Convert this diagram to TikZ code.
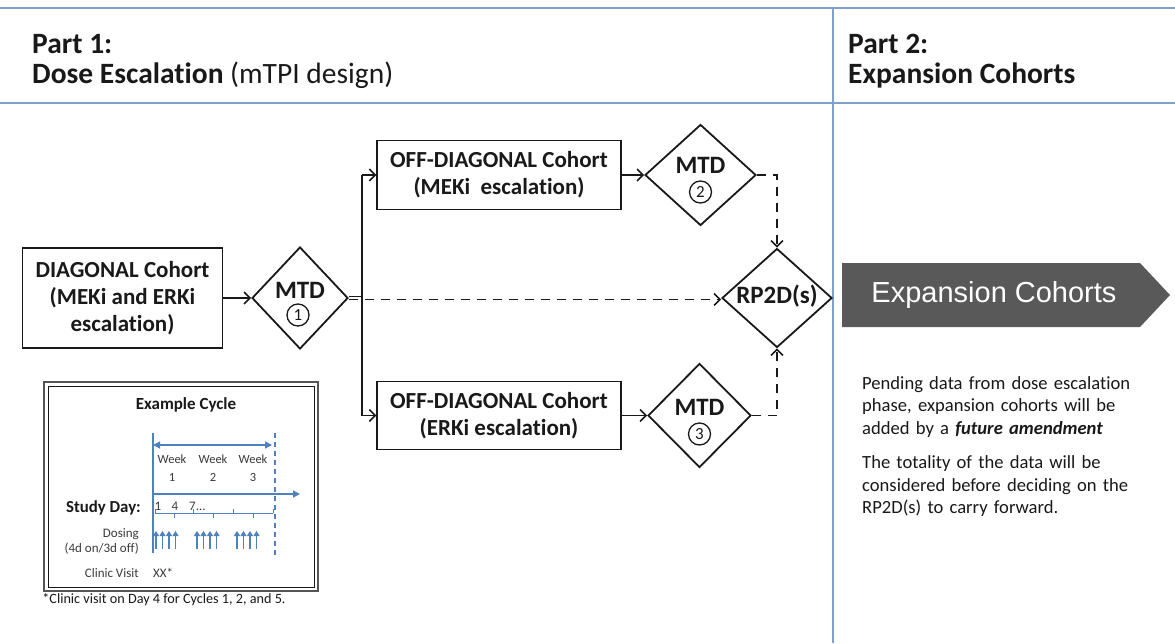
\documentclass[tikz,border=0pt]{standalone}
\usepackage{fontspec}
\setmainfont{Carlito}[Ligatures=NoCommon]
\newfontfamily\arialfont{Liberation Sans}
\usetikzlibrary{shapes.geometric,arrows.meta}
\definecolor{rulecol}{RGB}{127,160,207}
\definecolor{ink}{RGB}{25,25,25}
\definecolor{tlblue}{RGB}{79,129,189}
\definecolor{bannercol}{RGB}{89,89,89}
\definecolor{framegray}{RGB}{85,85,85}
\tikzset{
  cohort/.style={draw=ink, line width=1.3pt, fill=white, align=center, text=ink,
    font=\fontsize{23}{27}\selectfont\bfseries, inner sep=0pt},
  decision/.style={draw=ink, line width=1.8pt, diamond, inner sep=0pt, fill=white},
  dtext/.style={text=ink, inner sep=0pt, font=\fontsize{25}{27}\selectfont\bfseries},
  circnum/.style={circle, draw=ink, line width=1.3pt, minimum size=22pt, inner sep=0pt,
    text=ink, font=\fontsize{17}{17}\selectfont},
  flowline/.style={draw=ink, line width=1.8pt},
  flow/.style={flowline, -{Straight Barb[length=6pt,width=12pt,line width=1.5pt]}},
  dflow/.style={flow, dash pattern=on 9pt off 7pt},
  rulebar/.style={draw=rulecol, line width=2pt},
  head/.style={anchor=base west, inner sep=0pt, text=ink, font=\fontsize{29.5}{32}\selectfont},
  small/.style={inner sep=0pt, text=ink!85, font=\fontsize{13}{15}\selectfont},
  tl/.style={draw=tlblue, line width=1.3pt},
  tlarrow/.style={tl, -{Triangle[length=7pt,width=7pt]}},
  dosearrow/.style={draw=tlblue, line width=1.1pt, -{Triangle[length=5pt,width=6pt]}},
}
\begin{document}
\begin{tikzpicture}[x=1pt,y=-1pt]
\useasboundingbox (0,0) rectangle (1175,643);
\fill[white] (0,0) rectangle (1175,643);

% section rules and headings
\draw[rulebar] (0,8) -- (1175,8);
\draw[rulebar] (0,103) -- (1175,103);
\draw[draw=rulecol, line width=1.2pt] (833,8) -- (833,643);
\node[head] (p1a) at (32,53) {\bfseries Part 1:};
\node[head] (p1b) at (32,83) {\textbf{Dose Escalation} (mTPI design)};
\node[head] (p2a) at (848,53) {\bfseries Part 2:};
\node[head] (p2b) at (848,83) {\bfseries Expansion Cohorts};

% cohorts and decisions
\node[cohort, minimum width=200pt, minimum height=100pt] (diag) at (122.5,298)
  {DIAGONAL Cohort\\(MEKi and ERKi\\escalation)};
\node[decision, minimum width=96pt, minimum height=102pt] (m1) at (300,298) {};
\node[dtext] (m1t) at (300,290) {MTD};
\node[circnum] (m1c) at (298,315) {1};

\node[cohort, minimum width=244pt, minimum height=69pt] (off1) at (499,175)
  {OFF-DIAGONAL Cohort\\(MEKi~~escalation)};
\node[decision, minimum width=111pt, minimum height=101pt] (m2) at (700.5,175) {};
\node[dtext] (m2t) at (700.5,165) {MTD};
\node[circnum] (m2c) at (700.5,192) {2};

\node[cohort, minimum width=244pt, minimum height=68pt] (off2) at (499,415.5)
  {OFF-DIAGONAL Cohort\\(ERKi escalation)};
\node[decision, minimum width=103pt, minimum height=104pt] (m3) at (699.5,415.5) {};
\node[dtext] (m3t) at (699.5,407) {MTD};
\node[circnum] (m3c) at (699.5,434) {3};

\node[decision, minimum width=110pt, minimum height=99pt] (rp) at (777,298) {};
\node[dtext] (rpt) at (777,296) {RP2D(s)};

% connectors
\coordinate (tr) at (362,298);
\coordinate (tt) at (362,175);
\coordinate (tb) at (362,415.5);
\draw[flow] (diag) -- (m1);
\draw[flowline] ([yshift=1.5pt]m1.east) -- ([yshift=1.5pt]tr);
\draw[flowline] (tt) -- (tb);
\draw[flow] (tt) -- (off1.west);
\draw[flow] (tb) -- (off2.west);
\draw[flow] (off1) -- (m2);
\draw[flow] (off2) -- (m3);
\draw[dflow] ([yshift=-1.5pt]m1.east) -- ([yshift=-1.5pt]rp.west);
\draw[dflow] (m2.east) -| (rp.north);
\draw[dflow] (m3.east) -| (rp.south);

% part 2 banner and notes
\fill[bannercol] (842,263) -- (1140,263) -- (1170,295) -- (1140,327) -- (842,327) -- cycle;
\node[text=white, inner sep=0pt, font=\arialfont\fontsize{29}{32}\selectfont] (exp) at (994,295) {Expansion Cohorts};
\node[anchor=north west, inner sep=0pt, align=left, text=ink, text width=300pt,
  font=\fontsize{18.6}{22.5}\selectfont] (notes) at (862,376)
  {Pending data from dose escalation\\phase, expansion cohorts will be\\added by a \textbf{\textit{future amendment}}\\[12pt]
   The totality of the data will be\\considered before deciding on the\\RP2D(s) to carry forward.};

% example cycle panel
\draw[framegray, line width=2.5pt] (44,382) rectangle (318,591);
\draw[ink, line width=0.8pt] (48,386) rectangle (314,587);
\node[inner sep=0pt, text=ink, font=\fontsize{17}{19}\selectfont\bfseries] (ex) at (186,405) {Example Cycle};

\coordinate (ax0) at (153,433);
\coordinate (ax1) at (153,553);
\draw[tl, line width=1.5pt] (ax0) -- (ax1);
\coordinate (wk0) at (153,445);
\coordinate (wk1) at (272,445);
\draw[tl, {Triangle[length=7pt,width=7pt]}-{Triangle[length=7pt,width=7pt]}] (wk0) -- (wk1);
\coordinate (cy0) at (275,433);
\coordinate (cy1) at (275,555);
\draw[tl, dash pattern=on 5pt off 4pt] (cy0) -- (cy1);
\node[small, align=center, font=\fontsize{12.5}{18}\selectfont] (w1) at (172,468) {Week\\1};
\node[small, align=center, font=\fontsize{12.5}{18}\selectfont] (w2) at (213,468) {Week\\2};
\node[small, align=center, font=\fontsize{12.5}{18}\selectfont] (w3) at (253,468) {Week\\3};
\coordinate (sd0) at (153,494);
\coordinate (sd1) at (300,494);
\draw[tlarrow] (sd0) -- (sd1);

\node[anchor=east, inner sep=0pt, text=ink, font=\fontsize{16.8}{19}\selectfont\bfseries] (sd) at (141,508) {Study Day:};
\node[small] (d1) at (158,506) {1};
\node[small] (d4) at (175,506) {4};
\node[small, anchor=west] (d7) at (189,506) {7...};
\draw[tl, line width=1pt] (155,513) -- (273,513);
\foreach \x in {155,193,233,273} \draw[tl, line width=1pt] (\x,513) -- (\x,509);
\foreach \x in {174,213,253} \draw[tl, line width=1pt] (\x,513) -- (\x,518);

\node[small, anchor=east] (dos) at (139,534) {Dosing};
\node[small, anchor=east] (dos2) at (139,549) {(4d on/3d off)};
\foreach \s in {156,197,237}
  \foreach \k in {0,1,2,3}
    \draw[dosearrow] (\s+6.5*\k,549) -- (\s+6.5*\k,531);
\node[small, anchor=east] (cv) at (139,573) {Clinic Visit};
\node[small, anchor=west] (xx) at (153,573) {XX*};
\node[inner sep=0pt, text=ink, font=\fontsize{14.2}{16}\selectfont] (fn) at (164,600) {*Clinic visit on Day 4 for Cycles 1, 2, and 5.};
\end{tikzpicture}
\end{document}
